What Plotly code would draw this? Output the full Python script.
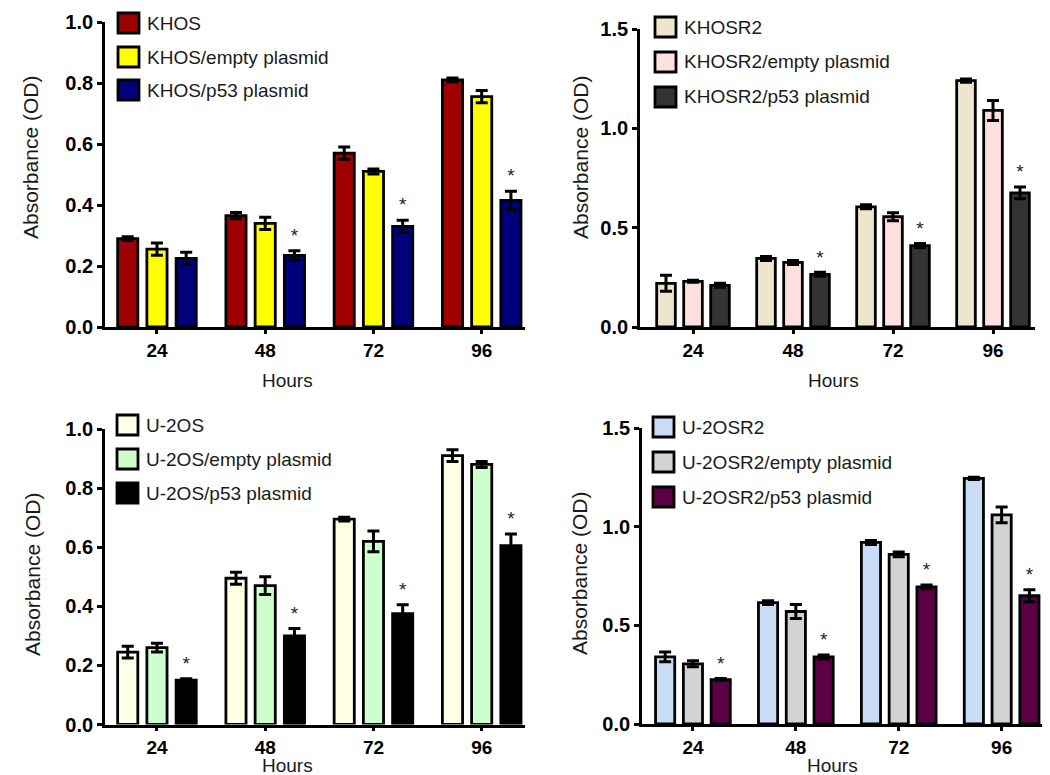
import plotly.graph_objects as go

hours = ["24", "48", "72", "96"]

# Panel 1: KHOS
khos_names = ["KHOS", "KHOS/empty plasmid", "KHOS/p53 plasmid"]
khos = [0.29, 0.365, 0.57, 0.81]
khos_err = [0.006, 0.01, 0.02, 0.006]
khos_empty = [0.255, 0.34, 0.51, 0.755]
khos_empty_err = [0.02, 0.02, 0.008, 0.02]
khos_p53 = [0.225, 0.235, 0.33, 0.415]
khos_p53_err = [0.02, 0.015, 0.02, 0.03]
khos_sig = [False, True, True, True]

# Panel 2: KHOSR2
khosr2_names = ["KHOSR2", "KHOSR2/empty plasmid", "KHOSR2/p53 plasmid"]
khosr2 = [0.22, 0.345, 0.605, 1.24]
khosr2_err = [0.04, 0.01, 0.01, 0.008]
khosr2_empty = [0.23, 0.325, 0.555, 1.09]
khosr2_empty_err = [0.005, 0.01, 0.02, 0.05]
khosr2_p53 = [0.21, 0.265, 0.41, 0.675]
khosr2_p53_err = [0.01, 0.01, 0.01, 0.03]
khosr2_sig = [False, True, True, True]

# Panel 3: U-2OS
u2os_names = ["U-2OS", "U-2OS/empty plasmid", "U-2OS/p53 plasmid"]
u2os = [0.245, 0.495, 0.695, 0.91]
u2os_err = [0.02, 0.02, 0.006, 0.02]
u2os_empty = [0.26, 0.47, 0.62, 0.88]
u2os_empty_err = [0.015, 0.03, 0.035, 0.01]
u2os_p53 = [0.15, 0.30, 0.375, 0.605]
u2os_p53_err = [0.005, 0.025, 0.03, 0.04]
u2os_sig = [True, True, True, True]

# Panel 4: U-2OSR2
u2osr2_names = ["U-2OSR2", "U-2OSR2/empty plasmid", "U-2OSR2/p53 plasmid"]
u2osr2 = [0.34, 0.615, 0.92, 1.245]
u2osr2_err = [0.025, 0.01, 0.01, 0.006]
u2osr2_empty = [0.305, 0.57, 0.86, 1.06]
u2osr2_empty_err = [0.015, 0.035, 0.012, 0.04]
u2osr2_p53 = [0.225, 0.34, 0.695, 0.65]
u2osr2_p53_err = [0.005, 0.01, 0.01, 0.03]
u2osr2_sig = [True, True, True, True]

FONT = "Liberation Sans, Arial, sans-serif"
BARGAP = 0.19
BARGROUPGAP = 0.31

# page offset (body margin) and figure size
OX, OY = 8, 8
FW, FH = 1050 - OX, 775 - OY


def px(X):
    return (X - OX) / FW


def py(Y):
    return 1 - (Y - OY) / FH


panels = [
    dict(names=khos_names, vals=[khos, khos_empty, khos_p53],
         errs=[khos_err, khos_empty_err, khos_p53_err], sig=khos_sig,
         colors=["#9E0000", "#FFFF00", "#00007A"],
         xpix=[105, 525], ypix=[22, 327], xr=[-0.48, 3.40],
         ymax=1.0, dtick=0.2, legx=118, legy=[23, 57, 90],
         hours_xy=(287, 381), ytitle_xy=(31, 158)),
    dict(names=khosr2_names, vals=[khosr2, khosr2_empty, khosr2_p53],
         errs=[khosr2_err, khosr2_empty_err, khosr2_p53_err], sig=khosr2_sig,
         colors=["#EDE6CC", "#FFE0E0", "#333333"],
         xpix=[640, 1035], ypix=[29, 327], xr=[-0.53, 3.42],
         ymax=1.5, dtick=0.5, legx=655, legy=[27, 62, 97],
         hours_xy=(833, 381), ytitle_xy=(581, 158)),
    dict(names=u2os_names, vals=[u2os, u2os_empty, u2os_p53],
         errs=[u2os_err, u2os_empty_err, u2os_p53_err], sig=u2os_sig,
         colors=["#FFFFE6", "#CCFFCC", "#000000"],
         xpix=[105, 525], ypix=[429, 724.5], xr=[-0.48, 3.40],
         ymax=1.0, dtick=0.2, legx=117, legy=[425, 459, 493],
         hours_xy=(287, 765.5), ytitle_xy=(32, 575)),
    dict(names=u2osr2_names, vals=[u2osr2, u2osr2_empty, u2osr2_p53],
         errs=[u2osr2_err, u2osr2_empty_err, u2osr2_p53_err], sig=u2osr2_sig,
         colors=["#C8DDF5", "#D3D3D3", "#5C0045"],
         xpix=[642, 1050], ypix=[428, 724], xr=[-0.495, 3.47],
         ymax=1.5, dtick=0.5, legx=653, legy=[427, 462, 497],
         hours_xy=(832, 765.5), ytitle_xy=(579, 574)),
]

fig = go.Figure()
shapes = []
annotations = []
slot = (1 - BARGAP) / 3

for k, p in enumerate(panels):
    ax = "" if k == 0 else str(k + 1)
    xa, ya = "x" + ax, "y" + ax
    for j in range(3):
        fig.add_trace(go.Bar(
            x=list(range(len(hours))), y=p["vals"][j], name=p["names"][j],
            xaxis=xa, yaxis=ya, showlegend=False,
            marker=dict(color=p["colors"][j], line=dict(color="black", width=2.8)),
            error_y=dict(type="data", array=p["errs"][j], color="black",
                         thickness=3, width=6),
        ))
    # significance stars above p53 bars
    sx, sy = [], []
    for i, s in enumerate(p["sig"]):
        if s:
            sx.append(i + slot)
            sy.append(p["vals"][2][i] + p["errs"][2][i] + 0.045 * p["ymax"])
    fig.add_trace(go.Scatter(x=sx, y=sy, mode="text", text=["*"] * len(sx),
                             textfont=dict(family=FONT, size=19, color="#1a1a3a"),
                             xaxis=xa, yaxis=ya, showlegend=False, hoverinfo="skip"))

    common = dict(showline=True, linecolor="black", linewidth=2.8, ticks="outside",
                  tickwidth=2.5, tickcolor="black", showgrid=False,
                  zeroline=False, automargin=False)
    xdom = [max(0, px(p["xpix"][0])), min(1, px(p["xpix"][1]))]
    ydom = [py(p["ypix"][1]), py(p["ypix"][0])]
    fig.layout["xaxis" + ax] = dict(domain=xdom, range=p["xr"], anchor=ya,
                                   tickvals=list(range(len(hours))), ticktext=hours,
                                   ticklen=4,
                                   tickfont=dict(family=FONT, size=19, color="black",
                                                 weight="bold"),
                                   **common)
    fig.layout["yaxis" + ax] = dict(domain=ydom, range=[0, p["ymax"]], anchor=xa,
                                   dtick=p["dtick"], tickformat=".1f", ticklen=5,
                                   tickfont=dict(family=FONT, size=20, color="black",
                                                 weight="bold"),
                                   **common)

    # legend swatches + labels
    for j in range(3):
        cy = p["legy"][j]
        shapes.append(dict(type="rect", xref="paper", yref="paper",
                           x0=px(p["legx"]), x1=px(p["legx"] + 21),
                           y0=py(cy + 10), y1=py(cy - 10),
                           fillcolor=p["colors"][j], line=dict(color="black", width=2.8)))
        annotations.append(dict(xref="paper", yref="paper", x=px(p["legx"] + 27),
                                y=py(cy), xanchor="left", yanchor="middle",
                                text=p["names"][j], showarrow=False,
                                font=dict(family=FONT, size=19, color="#1a1a1a")))
    hx, hy = p["hours_xy"]
    annotations.append(dict(xref="paper", yref="paper", x=px(hx), y=py(hy),
                            xanchor="center", yanchor="middle", text="Hours",
                            showarrow=False, font=dict(family=FONT, size=19, color="#1a1a1a")))
    tx, ty = p["ytitle_xy"]
    annotations.append(dict(xref="paper", yref="paper", x=px(tx), y=py(ty),
                            xanchor="center", yanchor="middle", textangle=-90,
                            text="Absorbance (OD)", showarrow=False,
                            font=dict(family=FONT, size=21, color="#1a1a1a")))

fig.update_layout(width=FW, height=FH,
                  margin=dict(l=0, r=0, t=0, b=0, autoexpand=False),
                  paper_bgcolor="white", plot_bgcolor="white",
                  barmode="group", bargap=BARGAP, bargroupgap=BARGROUPGAP,
                  shapes=shapes, annotations=annotations, showlegend=False)

fig.write_html("out.html")
